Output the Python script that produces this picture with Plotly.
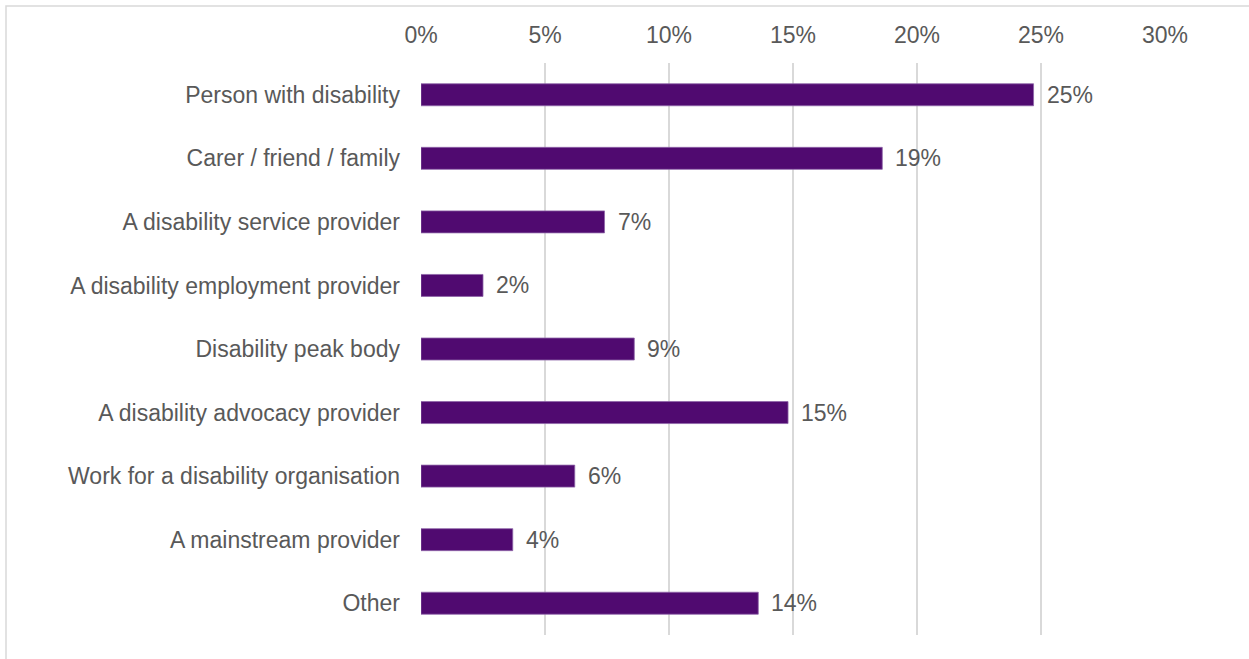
import plotly.graph_objects as go

# Respondent type and share of responses
categories = [
    "Person with disability",
    "Carer / friend / family",
    "A disability service provider",
    "A disability employment provider",
    "Disability peak body",
    "A disability advocacy provider",
    "Work for a disability organisation",
    "A mainstream provider",
    "Other",
]
shares = [0.247, 0.186, 0.074, 0.025, 0.086, 0.148, 0.062, 0.037, 0.136]

x_ticks = [0, 0.05, 0.10, 0.15, 0.20, 0.25, 0.30]
x_tick_labels = ["0%", "5%", "10%", "15%", "20%", "25%", "30%"]

TEXT_COLOR = "#595959"
FONT = "Liberation Sans, Arial, sans-serif"
FONT_SIZE = 23

fig = go.Figure(
    go.Bar(
        x=shares,
        y=categories,
        orientation="h",
        marker=dict(color="#500A70", line=dict(color="#8E64A8", width=0.8)),
        hoverinfo="skip",
    )
)

# Value labels just to the right of each bar
for cat, v in zip(categories, shares):
    fig.add_annotation(
        x=v, y=cat, xref="x", yref="y",
        text=f"{round(v * 100)}%",
        showarrow=False, xanchor="left", xshift=11,
        font=dict(family=FONT, size=FONT_SIZE, color=TEXT_COLOR),
    )

# Light frame around the chart
fig.add_shape(
    type="rect", xref="paper", yref="paper",
    x0=-0.5578, x1=1.3, y0=-0.2, y1=1.0997,
    line=dict(color="#D9D9D9", width=1.5), fillcolor="rgba(0,0,0,0)", layer="below",
)

fig.update_layout(
    width=1249, height=659,
    margin=dict(l=421, r=84, t=63, b=24),
    paper_bgcolor="white", plot_bgcolor="white",
    bargap=0.654,
    showlegend=False,
    font=dict(family=FONT, size=FONT_SIZE, color=TEXT_COLOR),
    xaxis=dict(
        side="top", range=[0, 0.30],
        tickvals=x_ticks, ticktext=x_tick_labels,
        showgrid=True, gridcolor="#D9D9D9", gridwidth=1.5,
        zeroline=False, showline=False, ticks="",
        ticklabelstandoff=14,
        tickfont=dict(family=FONT, size=FONT_SIZE, color=TEXT_COLOR),
    ),
    yaxis=dict(
        autorange="reversed", showgrid=False, zeroline=False, showline=False,
        ticks="", ticklabelstandoff=20,
        tickfont=dict(family=FONT, size=FONT_SIZE, color=TEXT_COLOR),
    ),
)

fig.write_html("out.html")
